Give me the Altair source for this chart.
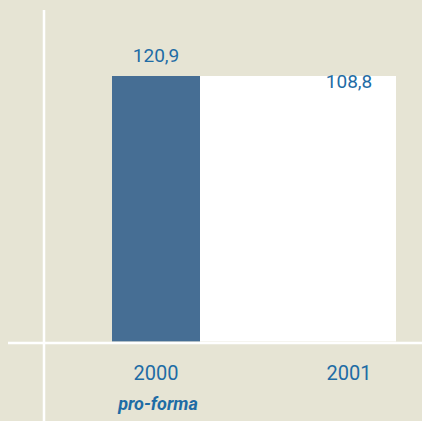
import altair as alt
import pandas as pd

years = ["2000", "2001"]
values = [120.9, 108.8]
value_labels = ["120,9", "108,8"]
subtitles = ["pro-forma", ""]

df = pd.DataFrame({"year": years, "value": values, "label": value_labels, "sub": subtitles})

FONT = "Roboto"
TXT = "#1E6CA5"
BLUE = "#466E94"
BG = "#E6E4D4"

xs = alt.X("year:N", scale=alt.Scale(domain=years, range=[59.5, 445.5], paddingInner=0, paddingOuter=0), axis=None)
ys = alt.Scale(nice=False, zero=True, range=[341.5, 76])

base = alt.Chart(df)

panel = base.transform_joinaggregate(vmax="max(value)").transform_filter(
    alt.datum.year == years[1]
).mark_bar(color="white", size=196, xOffset=-51).encode(
    x=xs, y=alt.Y("vmax:Q", scale=ys, axis=None)
)

blue = base.transform_filter(alt.datum.year == years[0]).mark_bar(color=BLUE, size=88).encode(
    x=xs, y=alt.Y("value:Q", scale=ys, axis=None)
)

vlabels = base.mark_text(font=FONT, fontSize=19, color=TXT, baseline="alphabetic", dy=-14.5).encode(
    x=xs, y=alt.Y("value:Q", scale=ys, axis=None), text="label:N"
)

ylabels = base.mark_text(font=FONT, fontSize=20, color=TXT, baseline="alphabetic").encode(
    x=xs, y=alt.value(380), text="year:N"
)

subs = base.mark_text(font=FONT, fontSize=18, fontStyle="italic", fontWeight="bold", color=TXT,
                      baseline="alphabetic", dx=2).encode(
    x=xs, y=alt.value(410), text="sub:N"
)

one = alt.Chart(pd.DataFrame({"k": [0]}))
vline = one.mark_rule(color="white", strokeWidth=2.5).encode(x=alt.value(44), y=alt.value(10), y2=alt.value(421))
hline = one.mark_rule(color="white", strokeWidth=2.5).encode(x=alt.value(8), x2=alt.value(422), y=alt.value(343))

chart = alt.layer(panel, blue, vline, hline, vlabels, ylabels, subs).properties(
    width=422, height=421, padding=0, autosize=alt.AutoSizeParams(type="none"), background=BG
).configure_view(stroke=None)

chart.save("out.html", embed_options={"renderer": "svg", "actions": False})
